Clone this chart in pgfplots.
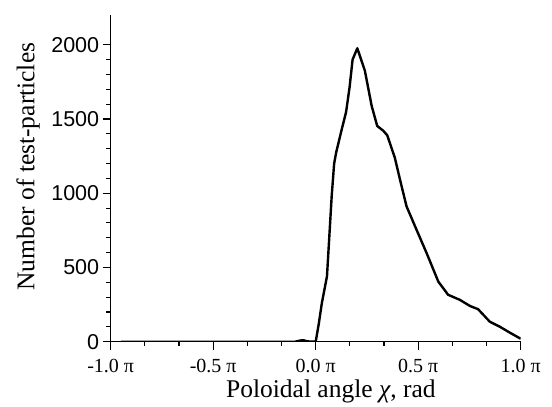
\documentclass[border=0pt]{standalone}
\usepackage{fontspec}
\setmainfont{Liberation Serif}
\setsansfont{Liberation Sans}
\usepackage{pgfplots}
\pgfplotsset{compat=1.18}
\begin{document}
\begin{tikzpicture}
\begin{axis}[
  scale only axis,
  width=410pt, height=326.7pt,
  xmin=-1, xmax=1, ymin=0, ymax=2200,
  axis x line*=bottom, axis y line*=left,
  axis line style={line width=1.3pt},
  every tick/.style={line width=1.1pt, black},
  tick align=outside,
  major tick length=8pt, minor tick length=4.5pt,
  xtick={-1,-0.5,0,0.5,1},
  xticklabels={-1.0 π,-0.5 π,0.0 π,0.5 π,1.0 π},
  minor x tick num=2,
  ytick={0,500,1000,1500,2000},
  yticklabels={0,500,1000,1500,2000},
  minor y tick num=4,
  xticklabel style={font=\fontsize{20}{24}\selectfont, anchor=base, yshift=-23pt},
  yticklabel style={font=\sffamily\fontsize{21.5}{24}\selectfont},
  xlabel={Poloidal angle \textit{χ}, rad},
  ylabel={Number of test-particles},
  label style={font=\fontsize{25.5}{28}\selectfont},
  xlabel style={at={(axis description cs:0.537,-0.1723)}, anchor=base},
  ylabel style={at={(axis description cs:-0.2017,0.536)}, anchor=center},
]
\addplot[black, line width=2.4pt, line join=round] coordinates {
(-0.95,0) (-0.10,0) (-0.075,8) (-0.06,10) (-0.04,2) (0.0,0)
(0.015,120) (0.03,260) (0.055,440) (0.078,980) (0.09,1200) (0.10,1275)
(0.127,1430) (0.148,1545) (0.165,1710) (0.18,1900) (0.203,1976)
(0.24,1824) (0.273,1588) (0.30,1453) (0.33,1420) (0.349,1390)
(0.386,1239) (0.411,1093) (0.443,912) (0.49,760) (0.541,597)
(0.598,405) (0.646,316) (0.703,282) (0.752,241) (0.792,219)
(0.849,135) (0.898,101) (0.947,61) (1.0,20)
};
\end{axis}
\pgfresetboundingbox
\path ([shift={(-110.7pt,-65.3pt)}]current axis.south west) rectangle ([shift={(441.3pt,341.7pt)}]current axis.south west);
\end{tikzpicture}
\end{document}
